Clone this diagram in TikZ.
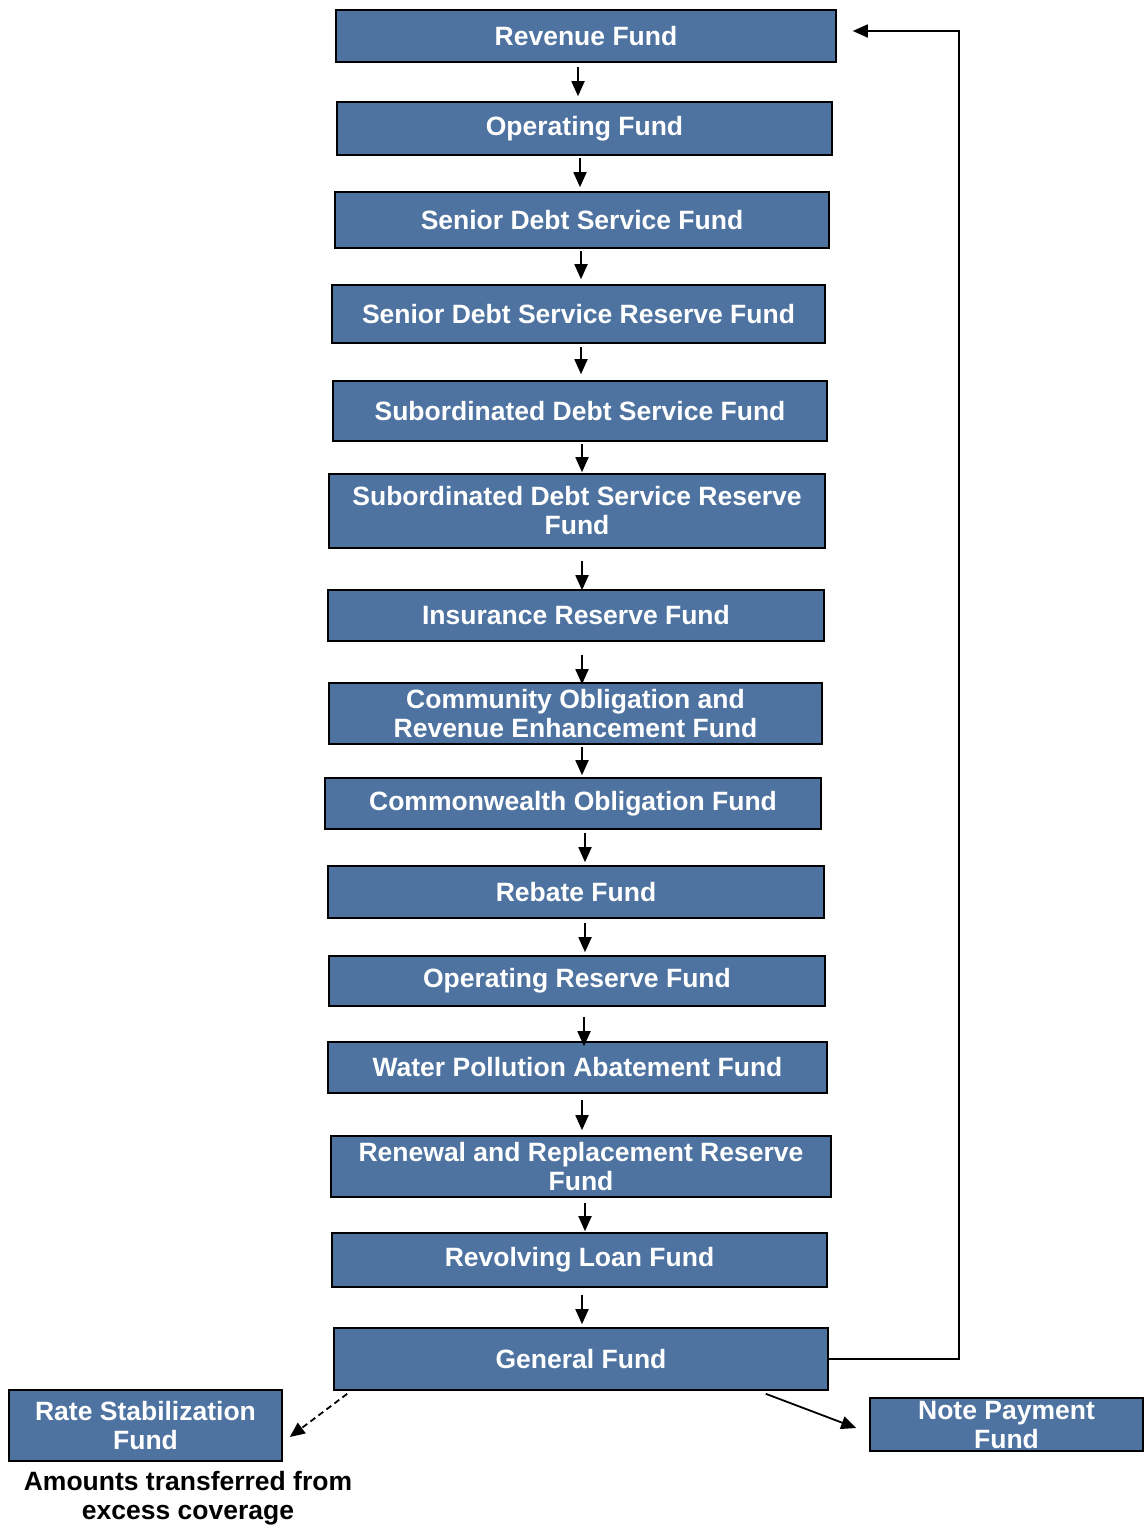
\documentclass[tikz,border=0pt]{standalone}
\usepackage{fontspec}
\setmainfont{Liberation Sans}
\usetikzlibrary{arrows.meta,calc}
\definecolor{fundblue}{HTML}{4E73A1}
\begin{document}
\begin{tikzpicture}[x=1pt,y=-1pt,
  fund/.style={draw=black,line width=1.6pt,fill=fundblue,text=white,
    inner sep=0pt,align=center,font=\bfseries\fontsize{26.5}{29}\selectfont},
  arr/.style={line width=1.8pt,-{Triangle[width=13pt,length=15pt]}},
  note/.style={inner sep=0pt,align=center,font=\bfseries\fontsize{26.5}{29}\selectfont}]
\useasboundingbox (0,0) rectangle (1147,1526);
\newcommand{\fundbox}[6]{\node[fund,minimum width=#4pt,minimum height=#5pt] (#1) at (#2,#3) {#6};}
\fundbox{rev}{586}{36}{500}{52}{Revenue Fund}
\fundbox{opf}{584.5}{128.5}{495}{53}{Operating Fund}
\fundbox{sds}{582}{220}{494}{56}{Senior Debt Service Fund}
\fundbox{sdr}{578.5}{314}{493}{58}{Senior Debt Service Reserve Fund}
\fundbox{sub}{580}{411}{494}{60}{Subordinated Debt Service Fund}
\fundbox{subr}{577}{511}{496}{74}{Subordinated Debt Service Reserve\\Fund}
\fundbox{ins}{576}{615.5}{496}{51}{Insurance Reserve Fund}
\fundbox{com}{575.5}{713.5}{493}{61}{Community Obligation and\\Revenue Enhancement Fund}
\fundbox{cw}{573}{803.5}{496}{51}{Commonwealth Obligation Fund}
\fundbox{reb}{576}{892}{496}{52}{Rebate Fund}
\fundbox{orf}{577}{981}{496}{50}{Operating Reserve Fund}
\fundbox{wpa}{577.5}{1067.5}{499}{51}{Water Pollution Abatement Fund}
\fundbox{ren}{581}{1166.5}{500}{61}{Renewal and Replacement Reserve\\Fund}
\fundbox{rlf}{579.5}{1260}{495}{54}{Revolving Loan Fund}
\fundbox{gf}{581}{1359}{494}{62}{General Fund}
\fundbox{rs}{145.5}{1425.5}{273}{71}{Rate Stabilization\\Fund}
\fundbox{np}{1006.5}{1424.5}{273}{53}{Note Payment\\Fund}
\node[note] (amt) at (188,1498.5) {Amounts transferred from\\excess coverage};
\newcommand{\conn}[5]{\draw[arr,shorten <=#4pt,shorten >=#5pt] (#1.south -| #3,0) -- (#2.north -| #3,0);}
\conn{rev}{opf}{578}{4}{5}
\conn{opf}{sds}{580}{2}{4}
\conn{sds}{sdr}{581}{2}{5}
\conn{sdr}{sub}{581}{3}{6}
\conn{sub}{subr}{582}{2}{1}
\conn{subr}{ins}{582}{12}{-1}
\conn{ins}{com}{582}{13}{-2}
\conn{com}{cw}{582}{2}{2}
\conn{cw}{reb}{585}{3}{3}
\conn{reb}{orf}{585}{4}{3}
\conn{orf}{wpa}{584}{10}{-5}
\conn{wpa}{ren}{582}{6}{5}
\conn{ren}{rlf}{585}{5}{1}
\conn{rlf}{gf}{582}{7}{3}
\draw[arr] (gf.east) -| ($(rev.east)+(122,-5)$) -- ($(rev.east)+(16,-5)$);
\draw[arr,dashed,dash pattern=on 6pt off 4pt] ($(gf.south west)+(14,3)$) -- ($(rs.east)+(7,11.5)$);
\draw[arr] ($(gf.south east)+(-63,3)$) -- ($(np.west)+(-13,3.5)$);
\end{tikzpicture}
\end{document}
